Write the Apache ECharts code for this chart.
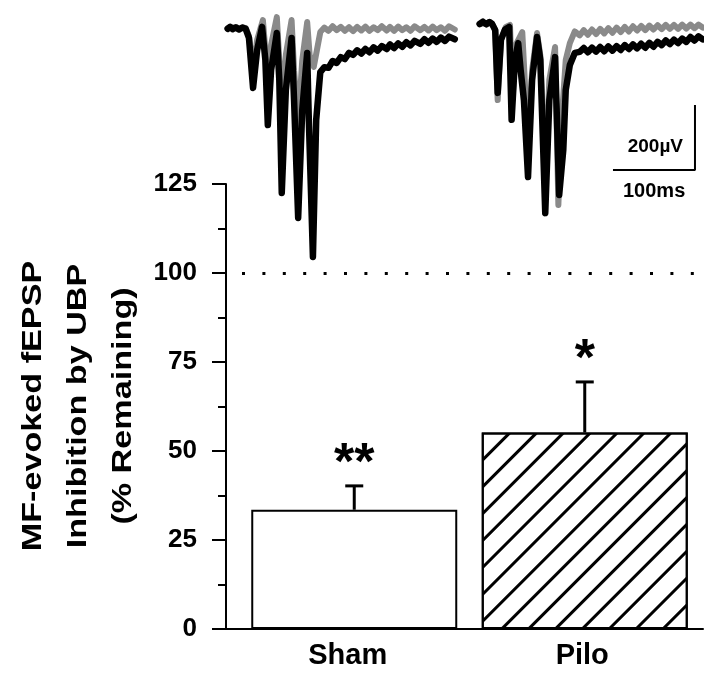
<!DOCTYPE html>
<html>
<head>
<meta charset="utf-8">
<script src="https://cdn.jsdelivr.net/npm/echarts@6/dist/echarts.min.js"></script>
<style>
html,body{margin:0;padding:0;background:#fff;}
#chart{width:704px;height:673px;}
</style>
</head>
<body>
<div id="chart"></div>
<script>
// ---- bar chart data ----
const categories = ['Sham', 'Pilo'];
const means = [33.5, 55.2];
const errUpper = [40.2, 69.4];
const stars = ['**', '*'];
const refLine = 100;
const yMin = 0, yMax = 125, yStep = 25;
const yName = 'MF-evoked fEPSP\nInhibition by UBP\n(% Remaining)';

// ---- example traces [time ms, amplitude µV] ----
const shamBlack = [[2,-8],[5,-2],[8,-9],[12,-3],[16,-10],[20,-4],[24,-8],[28,-36],[33,-190],[38,-73],[44,-2],[48,-104],[51,-304],[55,-135],[62,-21],[65,-165],[68,-513],[73,-196],[80,-36],[83,-227],[88,-590],[93,-258],[99,-82],[101,-288],[106,-710],[110,-288],[115,-141],[120,-126],[125,-128],[130,-107],[135,-113],[140,-95],[145,-101],[150,-82],[155,-88],[160,-74],[165,-84],[170,-70],[175,-80],[180,-65],[185,-75],[190,-61],[196,-70],[200,-56],[205,-67],[210,-53],[215,-63],[220,-49],[225,-59],[230,-45],[237,-54],[242,-40],[247,-51],[252,-38],[257,-48],[262,-35],[267,-45],[272,-32],[279,-40]];
const shamGray = [[2,-6],[8,-3],[14,-8],[20,-4],[24,-5],[28,-30],[33,-135],[38,-42],[45,19],[48,-73],[51,-196],[55,-58],[62,28],[65,-104],[68,-258],[73,-88],[80,19],[83,-135],[88,-304],[93,-104],[99,13],[102,-88],[107,-125],[115,-18],[120,-4],[125,-14],[130,0],[135,-12],[140,-2],[145,-14],[150,-3],[155,-15],[160,-2],[165,-13],[170,-1],[175,-14],[180,-3],[185,-12],[190,0],[196,-13],[200,-2],[205,-14],[210,-1],[215,-12],[220,-3],[225,-14],[230,0],[237,-12],[242,-2],[247,-13],[252,-1],[257,-12],[262,-3],[267,-14],[272,0],[279,-10]];
const piloBlack = [[2,7],[6,14],[10,6],[14,13],[17,8],[21,-12],[24,-205],[28,-42],[33,-10],[38,-2],[41,-288],[45,-104],[49,-52],[52,-135],[56,-227],[61,-464],[66,-165],[72,-33],[76,-104],[82,-575],[87,-227],[94,-95],[99,-519],[104,-381],[107,-196],[112,-119],[118,-82],[124,-79],[129,-67],[134,-80],[139,-66],[144,-78],[149,-64],[154,-77],[159,-62],[164,-75],[169,-61],[174,-73],[179,-58],[184,-70],[189,-56],[194,-68],[199,-54],[204,-66],[209,-51],[214,-63],[219,-48],[224,-58],[229,-44],[234,-55],[239,-41],[244,-52],[249,-38],[254,-48],[259,-33],[264,-44],[269,-31],[274,-40]];
const piloGray = [[2,7],[10,10],[17,8],[21,-12],[24,-227],[28,-42],[34,-2],[39,4],[42,-227],[46,-58],[54,-18],[57,-165],[61,-381],[66,-135],[72,-21],[76,-90],[82,-473],[87,-165],[94,-64],[98,-550],[102,-288],[107,-104],[112,-52],[118,-16],[124,-28],[129,-12],[134,-26],[139,-10],[144,-24],[149,-8],[154,-22],[159,-6],[164,-20],[169,-4],[174,-18],[179,-2],[184,-16],[189,0],[194,-13],[199,1],[204,-12],[209,2],[214,-10],[219,3],[224,-9],[229,4],[234,-8],[239,4],[244,-8],[249,5],[254,-7],[259,5],[264,-6],[269,5],[274,-4]];
const scaleMs = 100, scaleUv = 200;
const scaleCorner = [264.6, -442];
const scaleLabels = ['200\u00B5V', '100ms'];

const FONT = '"Liberation Sans", Arial, sans-serif';
const labelPad = [[0, 13, 0, 0], [0, 5, 0, 0]];
const chart = echarts.init(document.getElementById('chart'), null, {renderer: 'canvas'});

const traceAxisX = (gi, max) => ({type: 'value', gridIndex: gi, min: 0, max: max, show: false});
const traceAxisY = (gi) => ({type: 'value', gridIndex: gi, min: -750, max: 50, show: false});
const traceLine = (gi, data, color, width) => ({
  type: 'line', xAxisIndex: gi, yAxisIndex: gi, data: data, symbol: 'none', silent: true,
  lineStyle: {color: color, width: width, cap: 'round', join: 'round'}, z: 3
});

const option = {
  animation: false,
  backgroundColor: '#fff',
  grid: [
    {left: 239, right: 4, top: 184, bottom: 44},
    {left: 226, top: 10, width: 246, height: 260},
    {left: 478, top: 10, width: 226, height: 260},
    {left: 226, right: 1, top: 184, bottom: 44}
  ],
  xAxis: [
    {
      type: 'category', gridIndex: 0,
      data: categories.map((c, i) => ({value: c, textStyle: {padding: labelPad[i]}})),
      axisLine: {show: false},
      axisTick: {show: false},
      axisLabel: {color: '#000', fontFamily: FONT, fontWeight: 'bold', fontSize: 29, margin: 12}
    },
    traceAxisX(1, 300),
    traceAxisX(2, 275.6),
    {
      type: 'value', gridIndex: 3, min: 0, max: 1,
      axisLine: {show: true, lineStyle: {color: '#000', width: 2}},
      axisTick: {show: false}, axisLabel: {show: false}, splitLine: {show: false}
    }
  ],
  yAxis: [
    {
      type: 'value', gridIndex: 0, min: yMin, max: yMax, interval: yStep, offset: 13,
      axisLine: {show: true, lineStyle: {color: '#000', width: 2}},
      axisTick: {show: true, length: 14, lineStyle: {color: '#000', width: 2}},
      minorTick: {show: true, splitNumber: 2, length: 8, lineStyle: {color: '#000', width: 2}},
      splitLine: {show: false},
      axisLabel: {color: '#000', fontFamily: FONT, fontWeight: 'bold', fontSize: 26, margin: 29}
    },
    traceAxisY(1),
    traceAxisY(2),
    {type: 'value', gridIndex: 3, min: 0, max: 1, show: false}
  ],
  series: [
    {
      type: 'bar', xAxisIndex: 0, yAxisIndex: 0, barWidth: 206,
      data: means.map((v, i) => i === 1 ? {
        value: v,
        itemStyle: {
          decal: {symbol: 'rect', symbolSize: 1, color: '#000', dashArrayX: [1, 0], dashArrayY: [2.2, 16], rotation: -Math.PI / 4}
        }
      } : v),
      itemStyle: {color: '#fff', borderColor: '#000', borderWidth: 2},
      markLine: {
        silent: true, symbol: 'none', label: {show: false},
        lineStyle: {color: '#000', width: 3, type: [3, 17.4], dashOffset: 17.4},
        data: [{yAxis: refLine}]
      },
      z: 2
    },
    {
      type: 'custom', xAxisIndex: 0, yAxisIndex: 0, silent: true, z: 4,
      data: categories.map((c, i) => [i, means[i], errUpper[i]]),
      renderItem: function (params, api) {
        const p0 = api.coord([api.value(0), api.value(1)]);
        const p1 = api.coord([api.value(0), api.value(2)]);
        const st = {stroke: '#000', lineWidth: 3};
        return {
          type: 'group',
          children: [
            {type: 'line', shape: {x1: p0[0], y1: p0[1], x2: p1[0], y2: p1[1]}, style: st},
            {type: 'line', shape: {x1: p1[0] - 9, y1: p1[1], x2: p1[0] + 9, y2: p1[1]}, style: st},
            {type: 'text', style: {text: stars[params.dataIndex], x: p1[0], y: p1[1] + 5,
              align: 'center', verticalAlign: 'bottom', fill: '#000',
              font: 'bold 52px ' + FONT}}
          ]
        };
      }
    },
    traceLine(1, shamGray, '#8a8a8a', 6),
    traceLine(1, shamBlack, '#000', 6.5),
    traceLine(2, piloGray, '#8a8a8a', 6),
    traceLine(2, piloBlack, '#000', 6.5),
    {
      type: 'line', xAxisIndex: 2, yAxisIndex: 2, symbol: 'none', silent: true,
      data: [[scaleCorner[0] - scaleMs, scaleCorner[1]], scaleCorner, [scaleCorner[0], scaleCorner[1] + scaleUv]],
      lineStyle: {color: '#000', width: 2}, z: 3
    }
  ],
  graphic: [
    {type: 'text', x: 78, y: 406, rotation: Math.PI / 2, scaleX: 1.22,
      style: {text: yName, font: 'bold 28px ' + FONT, align: 'center', verticalAlign: 'middle', lineHeight: 45, fill: '#000'}},
    {type: 'text', right: 21, top: 137, style: {text: scaleLabels[0], font: 'bold 19px ' + FONT, fill: '#000'}},
    {type: 'text', left: 623, top: 181, style: {text: scaleLabels[1], font: 'bold 20px ' + FONT, fill: '#000'}}
  ]
};
chart.setOption(option);
</script>
</body>
</html>
